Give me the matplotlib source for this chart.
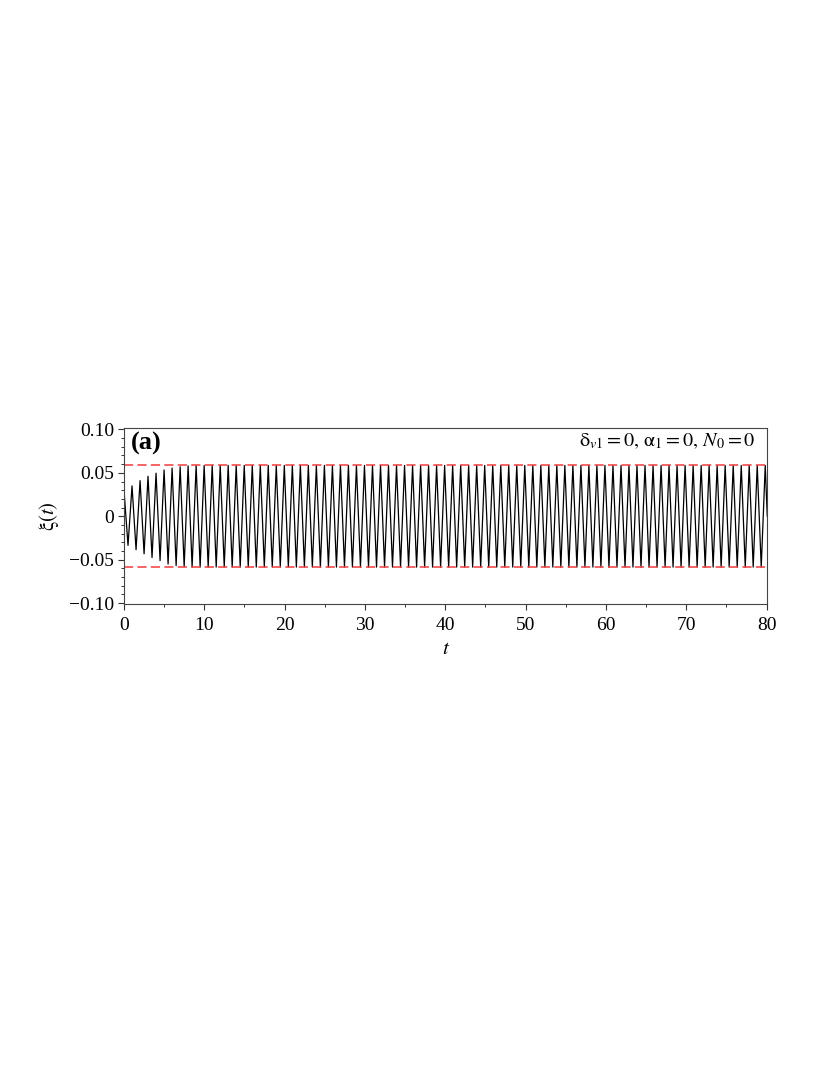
import matplotlib
matplotlib.use("Agg")
import matplotlib.pyplot as plt
from matplotlib.ticker import MultipleLocator

plt.rcParams['font.family'] = ['Liberation Serif', 'DejaVu Serif']
plt.rcParams['mathtext.fontset'] = 'stix'

# valores: ponto inicial, extremos (vale/pico alternados), ponto final
t_start, xi_start = 0.0, 0.030
t_end, xi_end = 80.09, 0.0

t_ext = [
    0.50, 1.00, 1.50, 2.00, 2.50,
    2.99, 3.49, 3.99, 4.49, 4.99, 5.49, 5.99, 6.49, 6.99, 7.49,
    7.98, 8.48, 8.98, 9.48, 9.98, 10.48, 10.98, 11.48, 11.98, 12.48,
    12.97, 13.47, 13.97, 14.47, 14.97, 15.47, 15.97, 16.47, 16.97, 17.47,
    17.96, 18.46, 18.96, 19.46, 19.96, 20.46, 20.96, 21.46, 21.96, 22.46,
    22.95, 23.45, 23.95, 24.45, 24.95, 25.45, 25.95, 26.45, 26.95, 27.45,
    27.94, 28.44, 28.94, 29.44, 29.94, 30.44, 30.94, 31.44, 31.94, 32.44,
    32.93, 33.43, 33.93, 34.43, 34.93, 35.43, 35.93, 36.43, 36.93, 37.43,
    37.92, 38.42, 38.92, 39.42, 39.92, 40.42, 40.92, 41.42, 41.92, 42.42,
    42.91, 43.41, 43.91, 44.41, 44.91, 45.41, 45.91, 46.41, 46.91, 47.41,
    47.90, 48.40, 48.90, 49.40, 49.90, 50.40, 50.90, 51.40, 51.90, 52.40,
    52.89, 53.39, 53.89, 54.39, 54.89, 55.39, 55.89, 56.39, 56.89, 57.39,
    57.88, 58.38, 58.88, 59.38, 59.88, 60.38, 60.88, 61.38, 61.88, 62.38,
    62.87, 63.37, 63.87, 64.37, 64.87, 65.37, 65.87, 66.37, 66.87, 67.37,
    67.86, 68.36, 68.86, 69.36, 69.86, 70.36, 70.86, 71.36, 71.86, 72.36,
    72.85, 73.35, 73.85, 74.35, 74.85, 75.35, 75.85, 76.35, 76.85, 77.35,
    77.84, 78.34, 78.84, 79.34, 79.84,
]

# amplitude cresce nos primeiros ciclos e depois satura
xi_ext_growth = [-0.0335, 0.035, -0.0385, 0.041, -0.0432, 0.046, -0.0475, 0.0496,
                 -0.051, 0.0533, -0.055, 0.0555, -0.0568, 0.057, -0.058, 0.058]
xi_ext_steady = [-0.0585, 0.0585] * 72
xi_ext = xi_ext_growth + xi_ext_steady

bound = 0.0585  # linhas tracejadas vermelhas

yticks = [-0.10, -0.05, 0.0, 0.05, 0.10]
ytick_labels = ['\u22120.10', '\u22120.05', '0', '0.05', '0.10']
xticks = [0, 10, 20, 30, 40, 50, 60, 70, 80]

t = [t_start] + t_ext + [t_end]
xi = [xi_start] + xi_ext + [xi_end]

fig = plt.figure(figsize=(8.3, 10.75), dpi=100)
ax = fig.add_axes([0.1494, 0.4381, 0.7751, 0.1633])

ax.plot(t, xi, color='black', linewidth=0.9)
ax.axhline(bound, color='#f03c3c', linewidth=1.1, linestyle=(0, (6, 2.8)))
ax.axhline(-bound, color='#f03c3c', linewidth=1.1, linestyle=(0, (6, 2.8)))

ax.set_xlim(0, 80.1)
ax.set_ylim(-0.101, 0.101)

ax.set_xticks(xticks)
ax.set_xticklabels([str(v) for v in xticks])
ax.xaxis.set_minor_locator(MultipleLocator(5))
ax.set_yticks(yticks)
ax.set_yticklabels(ytick_labels)
ax.yaxis.set_minor_locator(MultipleLocator(0.01))

ax.tick_params(which='major', direction='out', length=4, width=0.8, colors='#333333',
               labelsize=14, labelcolor='black')
ax.tick_params(axis='x', which='major', pad=5)
ax.tick_params(axis='y', which='major', pad=3)
ax.tick_params(which='minor', direction='out', length=2.5, width=0.7, colors='#333333')
for s in ax.spines.values():
    s.set_color('#444444')
    s.set_linewidth(0.8)

ax.set_xlabel(r'$t$', fontsize=15, labelpad=5)
ax.set_ylabel(r'$\mathrm{\xi}(t)$', fontsize=15, labelpad=6)

ax.text(0.011, 0.915, '(a)', transform=ax.transAxes, fontsize=19, fontweight='bold',
        ha='left', va='center')
ax.text(0.982, 0.925, r'$\mathrm{\delta}_{v1} = 0,\, \mathrm{\alpha}_{1} = 0,\, N_{0} = 0$',
        transform=ax.transAxes, fontsize=14.5, ha='right', va='center')

plt.savefig('out.png', dpi=100)
plt.close()
